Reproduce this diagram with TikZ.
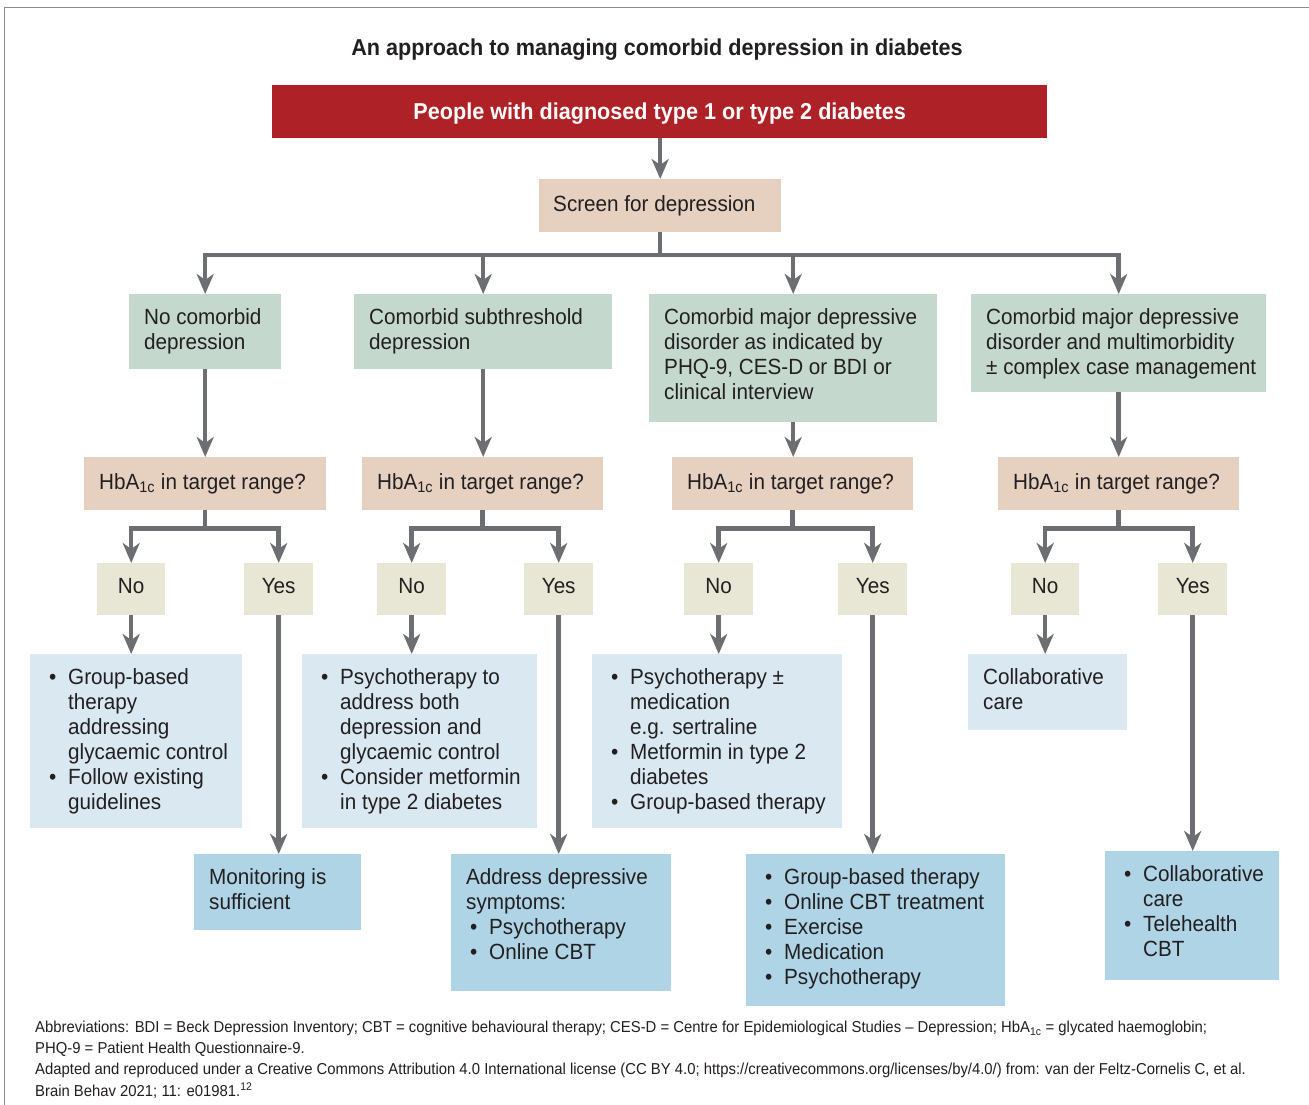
\documentclass[tikz,border=0pt]{standalone}
\usepackage{fontspec}
\setmainfont{Liberation Sans}[FakeStretch=0.94]
\usetikzlibrary{arrows.meta}
\definecolor{redb}{HTML}{AE2126}
\definecolor{beige}{HTML}{E6D0BF}
\definecolor{greenb}{HTML}{C5D8CE}
\definecolor{yn}{HTML}{E8E6D5}
\definecolor{lblue}{HTML}{D9E8F1}
\definecolor{dblue}{HTML}{AED4E6}
\definecolor{arrc}{HTML}{6D6E71}
\definecolor{txtc}{HTML}{231F20}
\definecolor{framec}{HTML}{8C8C8C}
\newcommand{\fs}{\fontsize{22}{25}\selectfont}
\newcommand{\fl}{\rule{0pt}{18pt}}
\newcommand{\bu}{\makebox[19pt][l]{•}}
\newcommand{\ind}{\hspace*{19pt}}
\newcommand{\hba}{HbA\textsubscript{1c}}
\tikzset{
  bx/.style={fill=#1, draw=none, inner sep=0, anchor=north west},
  tx/.style={anchor=north west, inner sep=0, align=left, font=\fs, text=txtc},
  lt/.style={anchor=west, inner sep=0, font=\fs, text=txtc},
  ynt/.style={font=\fs, text=txtc, text height=8pt, text depth=0pt},
  arr/.style={draw=arrc, line width=4.5pt, -{Stealth[length=20pt,width=17pt,inset=6pt]}},
  ln/.style={draw=arrc, line width=4.5pt},
  foot/.style={anchor=base west, inner sep=0, font=\fontsize{15.8}{21}\selectfont, text=txtc}
}
\begin{document}
\begin{tikzpicture}[x=1pt,y=-1pt]
\useasboundingbox (0,0) rectangle (1309,1105);
\fill[white] (0,0) rectangle (1309,1105);
\draw[framec, line width=1.5pt] (4.5,1105) -- (4.5,7.7) -- (1309,7.7);

% title
\node[font=\bfseries\fontsize{23}{28}\selectfont, text=txtc] (title) at (657,50) {An approach to managing comorbid depression in diabetes};

% red box
\node[bx=redb, minimum width=775, minimum height=53] (red) at (272,85) {};
\node[font=\bfseries\fontsize{23}{28}\selectfont, text=white, inner sep=0] (redt) at ([yshift=-2pt]red.center) {People with diagnosed type 1 or type 2 diabetes};

% screen
\node[bx=beige, minimum width=242, minimum height=53] (scr) at (539,179) {};
\node[lt] at ([xshift=14pt]scr.west) {Screen for depression};

% categories
\node[bx=greenb, minimum width=152, minimum height=75] (c1) at (129,294) {};
\node[tx] at ([xshift=15pt,yshift=-12pt]c1.north west) {\fl No comorbid\\depression};
\node[bx=greenb, minimum width=258, minimum height=75] (c2) at (354,294) {};
\node[tx] at ([xshift=15pt,yshift=-12pt]c2.north west) {\fl Comorbid subthreshold\\depression};
\node[bx=greenb, minimum width=288, minimum height=128] (c3) at (649,294) {};
\node[tx] at ([xshift=15pt,yshift=-12pt]c3.north west) {\fl Comorbid major depressive\\disorder as indicated by\\PHQ-9, CES-D or BDI or\\clinical interview};
\node[bx=greenb, minimum width=295, minimum height=98] (c4) at (971,294) {};
\node[tx] at ([xshift=15pt,yshift=-12pt]c4.north west) {\fl Comorbid major depressive\\disorder and multimorbidity\\± complex case management};

% HbA1c boxes
\node[bx=beige, minimum width=242, minimum height=53] (h1) at (84,457) {};
\node[lt] at ([xshift=15pt]h1.west) {\hba{} in target range?};
\node[bx=beige, minimum width=241, minimum height=53] (h2) at (362,457) {};
\node[lt] at ([xshift=15pt]h2.west) {\hba{} in target range?};
\node[bx=beige, minimum width=241, minimum height=53] (h3) at (672,457) {};
\node[lt] at ([xshift=15pt]h3.west) {\hba{} in target range?};
\node[bx=beige, minimum width=241, minimum height=53] (h4) at (998,457) {};
\node[lt] at ([xshift=15pt]h4.west) {\hba{} in target range?};

% No / Yes
\node[bx=yn, minimum width=68, minimum height=52, ynt] (n1) at (97,563) {No};
\node[bx=yn, minimum width=69, minimum height=52, ynt] (y1) at (244,563) {Yes};
\node[bx=yn, minimum width=69, minimum height=52, ynt] (n2) at (377,563) {No};
\node[bx=yn, minimum width=69, minimum height=52, ynt] (y2) at (524,563) {Yes};
\node[bx=yn, minimum width=69, minimum height=52, ynt] (n3) at (684,563) {No};
\node[bx=yn, minimum width=69, minimum height=52, ynt] (y3) at (838,563) {Yes};
\node[bx=yn, minimum width=68, minimum height=52, ynt] (n4) at (1011,563) {No};
\node[bx=yn, minimum width=69, minimum height=52, ynt] (y4) at (1158,563) {Yes};

% treatment (No) boxes
\node[bx=lblue, minimum width=212, minimum height=174] (t1) at (30,654) {};
\node[tx] at ([xshift=19pt,yshift=-12pt]t1.north west) {\fl\bu Group-based\\\ind therapy\\\ind addressing\\\ind glycaemic control\\\bu Follow existing\\\ind guidelines};
\node[bx=lblue, minimum width=235, minimum height=174] (t2) at (302,654) {};
\node[tx] at ([xshift=19pt,yshift=-12pt]t2.north west) {\fl\bu Psychotherapy to\\\ind address both\\\ind depression and\\\ind glycaemic control\\\bu Consider metformin\\\ind in type 2 diabetes};
\node[bx=lblue, minimum width=250, minimum height=174] (t3) at (592,654) {};
\node[tx] at ([xshift=19pt,yshift=-12pt]t3.north west) {\fl\bu Psychotherapy ±\\\ind medication\\\ind e.g. sertraline\\\bu Metformin in type 2\\\ind diabetes\\\bu Group-based therapy};
\node[bx=lblue, minimum width=159, minimum height=76] (t4) at (968,654) {};
\node[tx] at ([xshift=15pt,yshift=-12pt]t4.north west) {\fl Collaborative\\care};

% result (Yes) boxes
\node[bx=dblue, minimum width=167, minimum height=76] (r1) at (194,854) {};
\node[tx] at ([xshift=15pt,yshift=-12pt]r1.north west) {\fl Monitoring is\\sufficient};
\node[bx=dblue, minimum width=220, minimum height=137] (r2) at (451,854) {};
\node[tx] at ([xshift=15pt,yshift=-12pt]r2.north west) {\fl Address depressive\\symptoms:\\\hspace*{4pt}\bu Psychotherapy\\\hspace*{4pt}\bu Online CBT};
\node[bx=dblue, minimum width=259, minimum height=152] (r3) at (746,854) {};
\node[tx] at ([xshift=19pt,yshift=-12pt]r3.north west) {\fl\bu Group-based therapy\\\bu Online CBT treatment\\\bu Exercise\\\bu Medication\\\bu Psychotherapy};
\node[bx=dblue, minimum width=174, minimum height=129] (r4) at (1105,851) {};
\node[tx] at ([xshift=19pt,yshift=-12pt]r4.north west) {\fl\bu Collaborative\\\ind care\\\bu Telehealth\\\ind CBT};

% connectors
\draw[arr] (red.south -| scr.north) -- (scr.north);
\coordinate (j0) at (659,255);
\draw[ln] (scr.south) -- (scr.south |- j0);
\foreach \c in {c1,c2,c3,c4} { \draw[arr] (j0) -| (\c.north); }
\foreach \i in {1,2,3,4} {
  \draw[arr] (c\i.south) -- (c\i.south |- h\i.north);
  \draw[arr] (h\i.south) -- ++(0,18) -| (n\i.north);
  \draw[arr] (h\i.south) -- ++(0,18) -| (y\i.north);
  \draw[arr] (n\i.south) -- (n\i.south |- t\i.north);
  \draw[arr] (y\i.south) -- (y\i.south |- r\i.north);
}

% footer
\node[foot] (f1) at (35,1032.5) {Abbreviations: BDI = Beck Depression Inventory; CBT = cognitive behavioural therapy; CES-D = Centre for Epidemiological Studies – Depression; \hba{} = glycated haemoglobin;};
\node[foot] (f2) at (35,1053) {PHQ-9 = Patient Health Questionnaire-9.};
\node[foot] (f3) at (35,1074.5) {Adapted and reproduced under a Creative Commons Attribution 4.0 International license (CC BY 4.0; https://creativecommons.org/licenses/by/4.0/) from: van der Feltz-Cornelis C, et al.};
\node[foot] (f4) at (35,1096) {Brain Behav 2021; 11: e01981.\textsuperscript{12}};
\end{tikzpicture}
\end{document}
